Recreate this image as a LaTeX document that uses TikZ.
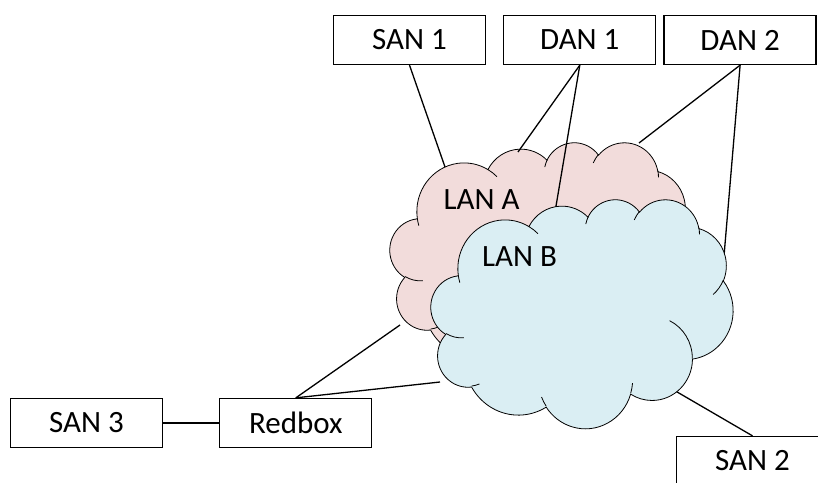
\documentclass[tikz,border=0pt]{standalone}
\usepackage{fontspec}
\setmainfont{Carlito}
\usetikzlibrary{positioning}

\definecolor{lanA}{RGB}{242,220,219}
\definecolor{lanB}{RGB}{218,238,243}

\tikzset{
  % arc given by visual angles (start/sweep) on an ellipse
  lan arc/.code args={#1/#2/#3/#4}{%
    \pgfmathsetmacro\arcst{atan2(#3*sin(#1),#4*cos(#1))}%
    \pgfmathsetmacro\arcen{atan2(#3*sin(#1+#2),#4*cos(#1+#2))}%
    \pgfmathsetmacro\arcdl{mod(\arcen-\arcst+720,360)}%
    \pgfkeysalso{start angle=\arcst,delta angle=\arcdl,x radius=#3,y radius=#4}},
  box/.style={draw,line width=1.3pt,minimum width=152pt,minimum height=49pt,inner sep=0pt},
  link/.style={line width=1.3pt},
  cloud edge/.style={draw,line width=0.8pt},
  lancloud/.pic={
    \path[pic actions] (39,143.7)
      arc[lan arc=-190.487/123.781/67.53/91.90]
      arc[lan arc=-144.102/89.945/53.33/72.67]
      arc[lan arc=-145.808/99.723/43.65/59.45]
      arc[lan arc=-130.986/117.242/48.57/65.95]
      arc[lan arc=-78.709/109.027/53.33/72.73]
      arc[lan arc=-46.267/130.269/67.75/92.20]
      arc[lan arc=0.625/114.033/57.85/78.67]
      arc[lan arc=22.452/115.173/67.52/92.15]
      arc[lan arc=66.243/75.711/77.20/105.43]
      arc[lan arc=-274.942/146.736/43.60/59.18]
      arc[lan arc=-246.829/152.519/43.45/59.45]
      -- cycle;
    \foreach \px/\py/\st/\sw/\rx/\ry in {
      46.93/261.77/86.742/26.430/43.45/59.45,
      69.28/348.99/73.610/11.447/43.60/59.18,
      164.78/390.90/137.624/14.081/67.52/92.15,
      288.27/347.51/6.453/15.998/67.52/92.15,
      341.29/229.54/-70.292/70.917/57.85/78.67,
      417.98/153.54/30.318/27.752/53.33/72.73,
      383.24/54.26/-13.744/14.860/48.57/65.95,
      290.78/39.52/-149.181/18.198/48.57/65.95,
      221.41/47.20/-163.494/17.685/43.65/59.45,
      140.00/51.92/-66.707/12.319/67.53/91.90,
      41.27/157.89/157.654/11.858/67.53/91.90}
      \draw[cloud edge] (\px,\py) arc[lan arc=\st/\sw/\rx/\ry];
  }
}

\begin{document}
\begin{tikzpicture}[x=1pt,y=-1pt,font=\fontsize{31}{37}\selectfont]
\useasboundingbox (0,0) rectangle (818,482);

% stations
\node[box] (san1) at (409.5,40) {SAN 1};
\node[box,right=17pt of san1] (dan1) {DAN 1};
\node[box,right=7pt of dan1] (dan2) {DAN 2};
\node[box] (san3) at (86.5,423) {SAN 3};
\node[box,right=56pt of san3] (redbox) {Redbox};
\node[box] (san2) at (752.5,461) {SAN 2};

% LAN A
\pic[draw,fill=lanA,line width=0.8pt,xscale=302/432,yscale=229/432] at (390,142) {lancloud};
\node (lana) at (481.5,199.5) {LAN A};

% attachment points on the clouds
\coordinate (a-san1) at (445,167);
\coordinate (a-dan1) at (518,152);
\coordinate (a-dan2) at (639,143);
\coordinate (a-red) at (400,325);
\coordinate (b-dan1) at (555,212);
\coordinate (b-dan2) at (724,256);
\coordinate (b-red) at (440,382);
\coordinate (b-san2) at (672,389);

\draw[link] (san1.south) -- (a-san1);
\draw[link] (dan1.south) -- (a-dan1);
\draw[link] (dan1.south) -- (b-dan1);
\draw[link] (dan2.south) -- (a-dan2);
\draw[link] (dan2.south) -- (b-dan2);
\draw[link] (redbox.north) -- (a-red);
\draw[link] (redbox.north) -- (b-red);
\draw[link] (san3.east) -- (redbox.west);
\draw[link] (san2.north) -- (b-san2);

% LAN B
\pic[draw,fill=lanB,line width=0.8pt,xscale=302/432,yscale=229/432] at (431,199) {lancloud};
\node (lanb) at (519.5,256.5) {LAN B};
\end{tikzpicture}
\end{document}
